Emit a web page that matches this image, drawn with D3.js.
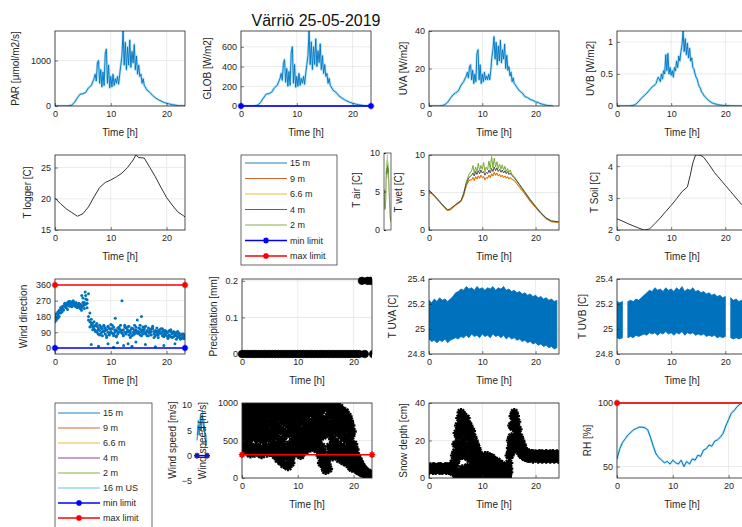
<!DOCTYPE html>
<html><head><meta charset="utf-8">
<script src="https://cdn.jsdelivr.net/npm/d3@7"></script>
<style>body{margin:0;background:#fff;} svg{display:block;}</style>
</head><body>
<svg id="chart" width="742" height="527"></svg>
<script>
// ---------------- DATA ----------------
const chartTitle = "Värriö 25-05-2019";
const timeTicks = [0, 10, 20];

// radiation time base (h)
const radT = [0,1,2,2.5,3,3.5,4,4.5,5,5.5,6,6.5,7,
  7.2,7.4,7.6,7.8,8,8.2,8.4,8.6,8.8,9,9.2,9.4,9.6,9.8,10,10.2,10.4,10.6,10.8,11,11.2,11.4,11.6,11.8,12,12.2,12.4,12.6,12.8,13,13.2,13.4,13.6,13.8,14,14.2,14.4,14.6,14.8,15,15.2,15.4,15.6,15.8,
  16,16.5,17,17.5,18,18.5,19,19.5,20,20.5,21,21.5,22,22.5,23,23.3];
const parVals = [0,0,0,5,20,80,180,260,270,300,400,450,600,
  700,550,950,1000,500,800,420,750,450,1150,1250,500,900,400,650,420,700,450,600,500,650,480,700,900,1100,1650,900,1400,800,1300,900,1450,850,1200,950,1350,800,1100,700,900,650,700,500,600,
  450,350,300,230,180,140,110,80,60,45,30,20,10,5,2,0];
const globVals = [0,0,0,2,10,35,80,120,125,140,185,210,280,
  330,260,430,470,240,380,200,350,210,540,600,230,420,190,300,200,330,210,280,230,300,220,330,420,510,760,420,650,370,600,420,680,400,560,440,630,370,510,330,420,300,330,230,280,
  210,160,140,105,85,65,50,38,28,20,14,9,5,2,1,0];
const uvaVals = [0,0,0,0.2,0.8,2,4,6,7,8,11,13,16,
  18,15,21,22,14,19,12,17,13,28,30,14,22,12,17,13,18,14,16,14,17,14,19,26,30,37,25,34,22,32,24,35,23,30,25,33,20,27,19,21,16,18,13,15,
  12,10,8,7,5,4.5,3.5,3,2.2,1.8,1.2,0.8,0.4,0.2,0.1,0];
const uvbVals = [0,0,0,0.003,0.01,0.03,0.07,0.12,0.16,0.2,0.25,0.3,0.33,
  0.35,0.4,0.45,0.42,0.38,0.5,0.42,0.55,0.5,0.8,0.55,0.82,0.5,0.6,0.48,0.55,0.45,0.6,0.55,0.7,0.6,0.78,0.7,0.85,0.95,1.17,0.85,1.05,0.8,0.98,0.75,0.9,0.7,0.75,0.6,0.58,0.5,0.45,0.42,0.35,0.3,0.28,0.22,0.2,
  0.17,0.12,0.08,0.05,0.035,0.025,0.015,0.01,0.006,0.004,0.002,0.001,0,0,0,0];

// T logger
const tlT = [0,1,2,3,4,5,6,7,8,9,10,11,12,13,14,14.5,15,16,17,18,19,20,21,22,23,23.3];
const tlVals = [20.1,19.2,18.4,17.8,17.2,17.6,18.7,20.3,21.8,22.6,23.0,23.5,24.1,25.0,26.2,27.0,26.6,26.5,25.0,23.5,21.8,20.2,19.0,17.9,17.3,17.1];

// T wet / T air
const twT = [0,1,2,3,3.5,4,5,6,6.5,7,7.5,
  8,8.25,8.5,8.75,9,9.25,9.5,9.75,10,10.25,10.5,10.75,11,11.25,11.5,11.75,12,12.25,12.5,12.75,13,13.25,13.5,13.75,14,14.25,14.5,14.75,15,15.25,15.5,
  16,17,18,19,20,21,22,23,24.3];
const twDark = [5.3,4.6,3.8,3.0,2.7,2.8,3.4,3.9,4.8,6.2,7.0,
  7.3,7.6,7.2,7.8,7.4,7.9,7.5,8.0,7.6,7.8,7.3,7.7,7.5,8.0,7.6,8.2,7.8,8.4,7.9,8.3,7.8,8.1,7.7,8.0,7.6,7.9,7.5,7.8,7.4,7.6,7.3,
  7.0,6.0,5.0,4.0,3.1,2.3,1.6,1.2,1.1];
const twOrange = [5.2,4.5,3.7,2.9,2.6,2.7,3.3,3.8,4.6,5.9,6.6,
  6.7,7.0,6.6,7.1,6.8,7.2,6.9,7.3,7.0,7.1,6.7,7.0,6.9,7.3,7.0,7.5,7.2,7.7,7.3,7.6,7.2,7.4,7.1,7.3,7.0,7.2,6.9,7.1,6.8,7.0,6.8,
  6.6,5.7,4.8,3.8,3.0,2.2,1.5,1.1,1.0];
const twGreen = [5.3,4.6,3.8,3.0,2.7,2.8,3.4,3.9,4.9,6.4,7.4,
  7.9,8.6,7.6,8.4,7.8,8.9,7.9,8.6,8.1,9.0,7.8,8.4,8.0,9.2,8.1,9.8,8.3,9.6,8.4,9.1,8.2,8.8,8.1,8.7,8.0,8.5,7.8,8.2,7.7,8.0,7.5,
  7.1,6.1,5.1,4.1,3.2,2.3,1.6,1.2,1.1];

// T soil
const tsT = [0,1,2,3,4,5,6,7,8,9,10,11,12,13,13.5,14,14.5,15,15.5,16,17,18,19,20,21,22,23,24];
const tsVals = [2.35,2.28,2.2,2.13,2.06,2.0,2.03,2.2,2.38,2.58,2.77,2.98,3.2,3.35,3.7,4.1,4.35,4.35,4.33,4.28,4.05,3.8,3.6,3.4,3.2,3.0,2.8,2.65];

// quarter-hour time base
const hours = [0,0.25,0.5,0.75,1,1.25,1.5,1.75,2,2.25,2.5,2.75,3,3.25,3.5,3.75,4,4.25,4.5,4.75,5,5.25,5.5,5.75,6,6.25,6.5,6.75,7,7.25,7.5,7.75,8,8.25,8.5,8.75,9,9.25,9.5,9.75,10,10.25,10.5,10.75,11,11.25,11.5,11.75,12,12.25,12.5,12.75,13,13.25,13.5,13.75,14,14.25,14.5,14.75,15,15.25,15.5,15.75,16,16.25,16.5,16.75,17,17.25,17.5,17.75,18,18.25,18.5,18.75,19,19.25,19.5,19.75,20,20.25,20.5,20.75,21,21.25,21.5,21.75,22,22.25,22.5,22.75,23,23.25,23.5,23.75,24,24.25];
// half-hour time base
const halfHours = [0,0.5,1,1.5,2,2.5,3,3.5,4,4.5,5,5.5,6,6.5,7,7.5,8,8.5,9,9.5,10,10.5,11,11.5,12,12.5,13,13.5,14,14.5,15,15.5,16,16.5,17,17.5,18,18.5,19,19.5,20,20.5,21,21.5,22,22.5,23,23.5,24];

// wind direction (deg)
const wdA = [150,175,190,200,215,225,240,235,250,245,255,240,260,250,245,255,240,235,250,230,240,225,250,275,180,150,130,120,110,100,90,115,100,85,110,95,80,105,90,110,95,85,120,90,100,80,110,95,85,105,90,115,95,75,100,115,90,80,105,95,85,110,90,120,95,80,100,115,85,95,110,80,100,90,75,105,85,95,80,100,70,90,75,95,80,65,85,70,80,65,75,60,70,65,60,70,65,60];
const wdB = [185,160,205,180,230,205,220,250,230,260,240,265,245,270,255,235,250,245,225,245,285,260,300,230,310,200,165,140,150,130,125,80,130,120,70,130,115,60,125,75,135,110,70,105,65,115,90,130,270,75,120,80,105,125,85,70,110,130,90,160,115,75,100,80,110,125,70,90,105,75,120,95,70,115,100,85,110,70,100,75,95,60,100,65,85,95,70,90,60,85,55,80,55,75,70,55,60,65];
const wdC = [165,195,170,215,200,235,215,255,240,220,265,250,235,265,240,260,230,255,240,215,260,245,280,255,160,120,145,105,125,95,140,105,75,115,95,125,100,70,120,85,110,130,80,100,70,95,120,105,100,70,130,90,120,95,60,110,75,100,120,85,95,130,70,105,120,85,95,70,90,110,125,60,95,80,60,90,85,110,65,90,85,55,70,105,60,90,75,50,95,70,50,75,80,55,75,60,70,50];
const wdOutT = [4.8,5.4,6.5,7.8,9.5,10.5,10.8,11.2,12.3,13.1,13.8,14.5,15.5,16.2,18,19.5,21.5];
const wdOutV = [300,320,20,10,25,5,170,30,15,25,10,35,180,20,8,15,25];

// precipitation (mm), half-hourly
const precipVals = [0,0,0,0,0,0,0,0,0,0,0,0,0,0,0,0,0,0,0,0,0,0,0,0,0,0,0,0,0,0,0,0,0,0,0,0,0,0,0,0,0,0,0,0.2,0,0.2,0.2,0,0];

// T UVA / T UVB envelopes (half-hourly)
const tuvaHi = [25.23,25.21,25.24,25.22,25.25,25.23,25.24,25.22,25.24,25.26,25.29,25.30,25.32,25.31,25.34,25.32,25.33,25.31,25.34,25.32,25.33,25.31,25.33,25.32,25.34,25.31,25.33,25.32,25.34,25.31,25.32,25.30,25.31,25.29,25.30,25.28,25.29,25.27,25.28,25.26,25.27,25.25,25.26,25.24,25.25,25.23,25.24,25.22,25.23];
const tuvaLo = [24.92,24.90,24.91,24.89,24.91,24.90,24.92,24.89,24.91,24.92,24.93,24.92,24.94,24.93,24.95,24.93,24.96,24.94,24.95,24.93,24.96,24.94,24.95,24.93,24.96,24.94,24.95,24.93,24.95,24.92,24.94,24.92,24.93,24.91,24.92,24.90,24.91,24.89,24.90,24.88,24.89,24.87,24.88,24.86,24.87,24.85,24.86,24.84,24.85];
const tuvbHi = [25.22,25.21,25.22,null,25.22,25.23,25.22,25.24,25.23,25.25,25.27,25.29,25.31,25.30,25.33,25.31,25.32,25.30,25.33,25.31,25.32,25.30,25.33,25.31,25.34,25.30,25.32,25.31,25.33,25.30,25.31,25.29,25.30,25.28,25.29,25.27,25.28,25.26,25.27,25.25,25.26,null,25.25,25.23,25.24,25.22,25.23,25.21,25.22];
const tuvbLo = [24.93,24.92,24.93,null,24.93,24.94,24.93,24.95,24.94,24.95,24.96,24.95,24.97,24.96,24.97,24.95,24.97,24.96,24.98,24.96,24.97,24.95,24.97,24.96,24.98,24.95,24.97,24.96,24.97,24.95,24.96,24.95,24.96,24.94,24.95,24.94,24.95,24.93,24.94,24.93,24.94,null,24.93,24.92,24.93,24.92,24.93,24.91,24.92];

// wind speed panel (black markers, quarter-hourly)
const wsA = [950,880,1000,920,980,900,960,1000,940,990,870,960,1000,930,980,910,970,1000,900,950,990,920,980,940,880,960,1000,900,950,850,980,920,900,960,870,1000,940,990,910,970,1000,930,960,890,950,1000,920,980,990,940,1000,960,920,980,950,1000,960,900,990,940,1000,930,970,910,950,990,920,880,960,900,940,870,900,850,880,800,820,760,700,620,450,380,300,260,220,180,150,120,100,80,70,60,50,45,40,40,35,30];
const wsB = [700,600,780,650,720,560,800,680,620,750,580,700,760,640,710,590,680,770,620,730,600,720,650,790,560,700,620,480,650,520,740,600,580,700,450,640,720,600,780,650,700,580,760,620,740,640,780,690,760,620,700,650,680,750,600,720,640,700,560,680,600,720,650,580,700,620,760,650,680,600,720,560,620,540,660,500,560,480,420,380,300,260,220,200,160,130,110,95,80,65,55,50,42,38,35,32,30,28];
const wsC = [420,500,380,460,350,450,320,400,380,330,420,360,340,400,310,380,360,420,330,390,400,340,450,360,300,400,250,350,220,380,180,320,280,150,350,200,400,320,450,360,350,420,300,380,420,360,450,390,450,400,480,420,400,460,380,440,300,200,350,150,100,250,120,300,350,280,400,320,300,380,250,340,280,220,320,200,250,180,150,130,180,150,120,100,90,80,70,60,55,45,40,35,30,25,20,20,18,15];
const wsD = [840,530,860,560,820,510,870,540,850,560,810,520,830,540,860,500,810,560,850,520,870,530,820,550,780,420,820,380,800,450,760,300,760,380,820,260,850,520,880,540,820,480,860,520,880,560,840,520,860,540,880,560,830,560,870,520,820,420,780,250,760,180,820,420,850,520,880,480,820,450,800,420,760,400,720,350,680,330,560,280,380,200,250,150,200,120,130,90,85,60,75,45,40,35,30,28,25,22];
// wind speed (m/s), hourly, narrow axis
const wsHourT = [0,1,2,3,4,5,6,7,8,9,10,11,12,13,14,15,16,17,18,19,20,21,22,23,24];
const ws15 = [3,4,5,6,5,4,5,6,7,6,5,6,7,8,7,6,5,6,5,4,3,2,2,3,3];
const ws16US = [4,5,6,7,6,5,6,7,8,7,6,7,8,9,8,7,6,7,6,5,4,3,3,4,4];

// snow depth (cm), quarter-hourly
const snA = [5,6,5,5.5,6,5,5.5,6,5,6,5.5,5,6,5,6,5.5,
  6,5,8,12, 18,24,28,32, 35,34,33,31, 32,29,28,26, 25,22,20,18, 16,14,12,11, 10,11,12,11, 12,11,10,11, 10,9,8,9, 7,8,6,7, 5,6,4,5, 12,20,28,33, 35,33,30,26, 22,20,18,16, 14,13.5,13,13.5,
  12,13,12.5,12,13,12,12.5,13,12,13,12,12.5,13,12.5,12,13,12,13,12.5,12,13,12.5];
const snB = [4,4.5,5,4,4.5,4,5,4.5,4,4.5,4,5,4.5,4,4.5,4,
  5,4.5,3,4, 2,1,3,1, 2,5,1,4, 2,6,1,4, 1,5,1,3, 0.5,3,1,0.5, 2,0.5,1,0.5, 2,0.5,1,0.5, 2,0.5,1,0.5, 1,0.5,1,0.5, 1,0.5,1,0.5, 3,12,14,15, 16,17,16,15, 14,13,12,12, 11,11,10.5,10.5,
  10.5,11,10,11,10.5,11,10,10.5,11,10,10.5,11,10,10.5,11,10,10.5,11,10,10.5,11,10];
const snC = [5.5,4.5,5,6,5,5.5,4.5,5,6,5,5.5,4.5,5,6,5,5.5,
  5.5,6,6,9, 14,18,22,26, 28,24,29,25, 27,22,24,20, 21,17,16,13, 12,10,9,7, 8,7,9,6, 8,7,6,8, 7,6,5,6, 5,4,4,3, 3,3,2,3, 8,16,22,27, 30,28,25,22, 19,17,15,14, 13,12.5,12,12.5,
  11.5,12,11,12,11.5,11,12,11.5,12,11,11.5,12,11,11.5,12,11,11.5,12,11,11.5,12,11.5];
const snD = [4.8,5.2,4.6,5.4,4.9,5.1,4.7,5.3,5,4.8,5.2,4.6,5.4,4.9,5.1,5,
  4.8,5.2,5,6, 8,10,12,15, 18,12,20,14, 17,11,16,10, 13,9,8,7, 5,6,4,3, 5,3,5,3, 5,3,4,3, 4,3,3,2, 3,2,2,2, 2,1,1,2, 5,14,18,20, 22,21,19,18, 16,15,14,13, 12,12,11.5,11,
  12.5,11,13,11.5,12,12.5,11,13,11.5,12.5,11,12,13,11.5,12.5,11,12,13,11.5,12.5,11,12];

// RH (%), half-hourly
const rhVals = [56,64,69,72,75,77,79,80,81,81,80.5,79,73,66,60,57,55,53,54,52,55,53,52,55,50,54,52,56,55,59,58,63,64,67,66,70,71,73,76,82,87,92,94,97,99,100,100,100,100];

// legends
const legend1Labels = ["15 m","9 m","6.6 m","4 m","2 m","min limit","max limit"];
const legend2Labels = ["15 m","9 m","6.6 m","4 m","2 m","16 m US","min limit","max limit"];

// ---------------- STYLE ----------------
const FONT = "'Liberation Sans', Arial, Helvetica, sans-serif";
const INK = "#262626";
const C = {blue:"#0072BD", orange:"#D95319", yellow:"#EDB120", purple:"#7E2F8E", green:"#77AC30", cyan:"#4DBEEE", minl:"#0000FF", maxl:"#FF0000"};
const legend1Colors = [C.blue, C.orange, C.yellow, C.purple, C.green, C.minl, C.maxl];
const legend2Colors = [C.blue, C.orange, C.yellow, C.purple, C.green, C.cyan, C.minl, C.maxl];

const svg = d3.select("#chart").attr("font-family", FONT);
let clipN = 0;

function starPath(r) {
  const d = r * 0.7;
  return `M${-r},0H${r}M0,${-r}V${r}M${-d},${-d}L${d},${d}M${-d},${d}L${d},${-d}`;
}

function makePanel(o) {
  const g = svg.append("g").attr("transform", `translate(${o.x},${o.y})`);
  const xs = d3.scaleLinear().domain(o.xd).range([0, o.w]);
  const ys = d3.scaleLinear().domain(o.yd).range([o.h, 0]);
  const grid = g.append("g").attr("stroke", "#e2e2e2").attr("stroke-width", 0.7);
  timeTicks.forEach(v => grid.append("line").attr("x1", xs(v)).attr("x2", xs(v)).attr("y1", 0).attr("y2", o.h));
  o.yt.forEach(v => grid.append("line").attr("x1", 0).attr("x2", o.w).attr("y1", ys(v)).attr("y2", ys(v)));
  const id = "cp" + (clipN++);
  g.append("clipPath").attr("id", id).append("rect").attr("width", o.w).attr("height", o.h);
  const plot = g.append("g").attr("clip-path", `url(#${id})`);
  return {g, xs, ys, plot, o};
}

function finishPanel(p) {
  const {g, xs, ys, o} = p;
  g.append("rect").attr("width", o.w).attr("height", o.h).attr("fill", "none").attr("stroke", INK).attr("stroke-width", 0.8);
  const xa = g.append("g").attr("transform", `translate(0,${o.h})`)
    .call(d3.axisBottom(xs).tickValues(timeTicks).tickSizeInner(-3).tickSizeOuter(0).tickPadding(5));
  const ya = g.append("g")
    .call(d3.axisLeft(ys).tickValues(o.yt).tickSizeInner(-3).tickSizeOuter(0).tickPadding(4).tickFormat(d => String(d)));
  [xa, ya].forEach(a => {
    a.select(".domain").remove();
    a.selectAll("line").attr("stroke", INK).attr("stroke-width", 0.6);
    a.selectAll("text").attr("fill", INK).attr("font-size", 9).attr("font-family", FONT);
  });
  g.append("text").attr("x", o.w / 2).attr("y", o.h + 30).attr("text-anchor", "middle")
    .attr("font-size", 10).attr("fill", INK).text("Time [h]");
  if (o.ylabel) {
    g.append("text").attr("transform", `translate(${o.ylx - o.x},${o.h / 2}) rotate(-90)`)
      .attr("text-anchor", "middle").attr("dy", "0.35em").attr("font-size", 10).attr("fill", INK).text(o.ylabel);
  }
}

function drawLine(p, xsArr, ysArr, color, width, opacity) {
  const pts = xsArr.map((t, i) => [t, ysArr[i]]);
  p.plot.append("path").datum(pts)
    .attr("d", d3.line().defined(d => d[1] != null).x(d => p.xs(d[0])).y(d => p.ys(d[1])))
    .attr("fill", "none").attr("stroke", color).attr("stroke-width", width).attr("stroke-opacity", opacity == null ? 1 : opacity)
    .attr("stroke-linejoin", "round");
}

function limitLine(p, val, color, ends) {
  const y = p.ys(val);
  p.g.append("line").attr("x1", 0).attr("x2", p.o.w).attr("y1", y).attr("y2", y)
    .attr("stroke", color).attr("stroke-width", 1.6);
  (ends || [0, p.o.w]).forEach(x => {
    p.g.append("path").attr("d", starPath(3.2)).attr("transform", `translate(${x},${y})`)
      .attr("stroke", color).attr("stroke-width", 1.6).attr("fill", "none");
  });
}

function stars(p, tArr, vArr, r, sw) {
  p.plot.append("g").selectAll("path").data(tArr.map((t, i) => [t, vArr[i]])).join("path")
    .attr("d", starPath(r)).attr("transform", d => `translate(${p.xs(d[0])},${p.ys(d[1])})`)
    .attr("stroke", "#000").attr("stroke-width", sw).attr("fill", "none");
}

// ---------------- TITLE ----------------
svg.append("text").attr("x", 316).attr("y", 26).attr("text-anchor", "middle")
  .attr("font-size", 16).attr("fill", "#111").text(chartTitle);

// ---------------- ROW 1 ----------------
const radCfg = [
  {x:55,  xd:[0,23.3], yd:[0,1650], yt:[0,1000], ylabel:"PAR [μmol/m2/s]", ylx:15, vals:parVals},
  {x:241, xd:[0,23.3], yd:[0,760], yt:[0,200,400,600], ylabel:"GLOB [W/m2]", ylx:207, vals:globVals, minLimit:true},
  {x:429, xd:[0,24.4], yd:[0,40], yt:[0,20,40], ylabel:"UVA [W/m2]", ylx:403, vals:uvaVals},
  {x:617, xd:[0,24], yd:[0,1.17], yt:[0,0.5,1], ylabel:"UVB [W/m2]", ylx:590, vals:uvbVals}
];
radCfg.forEach(c => {
  const p = makePanel(Object.assign({y:31, w:130, h:75}, c));
  drawLine(p, radT, c.vals, C.cyan, 2.6, 0.45);
  drawLine(p, radT, c.vals, C.blue, 0.9);
  finishPanel(p);
  if (c.minLimit) limitLine(p, 0, C.minl);
});

// ---------------- ROW 2 ----------------
{
  const p = makePanel({x:55, y:155, w:130, h:75, xd:[0,23.3], yd:[15,27], yt:[15,20,25], ylabel:"T logger [C]", ylx:27});
  drawLine(p, tlT, tlVals, "#333", 1);
  finishPanel(p);
}
function drawLegend(x, y, w, h, labels, colors, lx0, lx1, tx, y0, dy) {
  const g = svg.append("g");
  g.append("rect").attr("x", x).attr("y", y).attr("width", w).attr("height", h)
    .attr("fill", "#fff").attr("stroke", INK).attr("stroke-width", 0.7);
  labels.forEach((lab, i) => {
    const yy = y0 + i * dy;
    g.append("line").attr("x1", lx0).attr("x2", lx1).attr("y1", yy).attr("y2", yy)
      .attr("stroke", colors[i]).attr("stroke-width", lab.includes("limit") ? 1.4 : 0.9);
    if (lab.includes("limit")) {
      g.append("path").attr("d", starPath(3)).attr("transform", `translate(${(lx0 + lx1) / 2},${yy})`)
        .attr("stroke", colors[i]).attr("stroke-width", 1.5).attr("fill", "none");
    }
    g.append("text").attr("x", tx).attr("y", yy).attr("dy", "0.35em").attr("font-size", 9)
      .attr("fill", INK).text(lab);
  });
}
drawLegend(241, 155, 96, 110, legend1Labels, legend1Colors, 245, 287, 290, 163, 15.5);

// T air mini axes
{
  const x0 = 384, y0 = 153, w = 7, h = 77;
  const g = svg.append("g").attr("transform", `translate(${x0},${y0})`);
  const xs = d3.scaleLinear().domain([0, 24.4]).range([0, w]);
  const ys = d3.scaleLinear().domain([0, 10]).range([h, 0]);
  const id = "cp" + (clipN++);
  g.append("clipPath").attr("id", id).append("rect").attr("width", w).attr("height", h);
  const pl = g.append("g").attr("clip-path", `url(#${id})`);
  [[twOrange, "#e8c88a"], [twGreen, "#a9cf7f"], [twDark, "#5f8a3a"]].forEach(([vals, col]) => {
    pl.append("path").datum(twT.map((t, i) => [t, vals[i]]))
      .attr("d", d3.line().x(d => xs(d[0])).y(d => ys(d[1])))
      .attr("fill", "none").attr("stroke", col).attr("stroke-width", 0.8).attr("stroke-opacity", 0.8);
  });
  g.append("rect").attr("width", w).attr("height", h).attr("fill", "none").attr("stroke", INK).attr("stroke-width", 0.7);
  const ya = g.append("g").call(d3.axisLeft(ys).tickValues([0, 5, 10]).tickSizeInner(-2).tickSizeOuter(0).tickPadding(4));
  ya.select(".domain").remove();
  ya.selectAll("line").attr("stroke", INK);
  ya.selectAll("text").attr("fill", INK).attr("font-size", 9).attr("font-family", FONT);
  svg.append("text").attr("transform", `translate(356,190) rotate(-90)`).attr("text-anchor", "middle")
    .attr("dy", "0.35em").attr("font-size", 10).attr("fill", INK).text("T air [C]");
}
{
  const p = makePanel({x:429, y:155, w:130, h:75, xd:[0,24.4], yd:[0,10], yt:[0,5,10], ylabel:"T wet [C]", ylx:398});
  drawLine(p, twT, twOrange, C.yellow, 1.1);
  drawLine(p, twT, twOrange, C.orange, 0.8, 0.8);
  drawLine(p, twT, twGreen, C.green, 1);
  drawLine(p, twT, twDark, "#4d4d4d", 1);
  finishPanel(p);
}
{
  const p = makePanel({x:617, y:155, w:130, h:75, xd:[0,24], yd:[2,4.35], yt:[2,3,4], ylabel:"T Soil [C]", ylx:594});
  drawLine(p, tsT, tsVals, "#333", 1);
  finishPanel(p);
}

// ---------------- ROW 3 ----------------
{
  const p = makePanel({x:55, y:279, w:130, h:75, xd:[0,23.3], yd:[-34,394], yt:[0,90,180,270,360], ylabel:"Wind direction", ylx:23});
  const dots = hours.map((t, i) => [t, wdA[i]]).concat(hours.map((t, i) => [t, wdB[i]]))
    .concat(hours.map((t, i) => [t, wdC[i]])).concat(wdOutT.map((t, i) => [t, wdOutV[i]]));
  p.plot.append("g").selectAll("circle").data(dots).join("circle")
    .attr("cx", d => p.xs(d[0])).attr("cy", d => p.ys(d[1])).attr("r", 1.5).attr("fill", C.blue);
  finishPanel(p);
  limitLine(p, 0, C.minl);
  limitLine(p, 360, C.maxl);
}
{
  const p = makePanel({x:242, y:279, w:130, h:75, xd:[0,23.3], yd:[0,0.205], yt:[0,0.1,0.2], ylabel:"Precipitation [mm]", ylx:213});
  finishPanel(p);
  const cp = "cpx" + (clipN++);
  p.g.append("clipPath").attr("id", cp).append("rect").attr("x", -5).attr("y", -6).attr("width", p.o.w + 5).attr("height", p.o.h + 12);
  p.g.append("g").attr("clip-path", `url(#${cp})`).selectAll("circle")
    .data(halfHours.map((t, i) => [t, precipVals[i]])).join("circle")
    .attr("cx", d => p.xs(d[0])).attr("cy", d => p.ys(d[1])).attr("r", 3.8)
    .attr("fill", "#000").attr("stroke", "#000").attr("stroke-width", 0.6);
}
function envelope(p, hi, lo) {
  const pts = halfHours.map((t, i) => [t, lo[i], hi[i]]);
  p.plot.append("path").datum(pts)
    .attr("d", d3.area().defined(d => d[1] != null).x(d => p.xs(d[0])).y0(d => p.ys(d[1])).y1(d => p.ys(d[2])))
    .attr("fill", C.blue).attr("stroke", C.blue).attr("stroke-width", 0.8);
}
{
  const p = makePanel({x:429, y:279, w:130, h:75, xd:[0,24.4], yd:[24.8,25.4], yt:[24.8,25,25.2,25.4], ylabel:"T UVA [C]", ylx:392});
  envelope(p, tuvaHi, tuvaLo);
  finishPanel(p);
}
{
  const p = makePanel({x:617, y:279, w:130, h:75, xd:[0,24], yd:[24.8,25.4], yt:[24.8,25,25.2,25.4], ylabel:"T UVB [C]", ylx:582});
  envelope(p, tuvbHi, tuvbLo);
  finishPanel(p);
}

// ---------------- ROW 4 ----------------
drawLegend(55, 403, 97, 135, legend2Labels, legend2Colors, 58, 100, 103, 413, 15);

// narrow wind speed axis
{
  const x0 = 197, w = 10;
  const xs = d3.scaleLinear().domain([0, 24]).range([x0, x0 + w]);
  const ys = d3.scaleLinear().domain([-5, 10]).range([481, 405]);
  const g = svg.append("g");
  [[ws16US, C.cyan], [ws15, C.blue]].forEach(([vals, col]) => {
    g.append("path").datum(wsHourT.map((t, i) => [t, vals[i]]))
      .attr("d", d3.line().x(d => xs(d[0])).y(d => ys(d[1])))
      .attr("fill", "none").attr("stroke", col).attr("stroke-width", 0.9);
  });
  g.append("line").attr("x1", xs(0)).attr("x2", xs(24)).attr("y1", ys(0)).attr("y2", ys(0))
    .attr("stroke", C.minl).attr("stroke-width", 1.6);
  [0, 24].forEach(t => g.append("path").attr("d", starPath(3)).attr("transform", `translate(${xs(t)},${ys(0)})`)
    .attr("stroke", "#1a1aa0").attr("stroke-width", 1.5).attr("fill", "none"));
  const ya = g.append("g").attr("transform", `translate(${x0},0)`)
    .call(d3.axisLeft(ys).tickValues([-5, 0, 5, 10]).tickSize(0).tickPadding(5));
  ya.select(".domain").remove();
  ya.selectAll("text").attr("fill", INK).attr("font-size", 9).attr("font-family", FONT);
  svg.append("text").attr("transform", `translate(172,440) rotate(-90)`).attr("text-anchor", "middle")
    .attr("dy", "0.35em").attr("font-size", 10).attr("fill", INK).text("Wind speed [m/s]");
}
{
  const p = makePanel({x:242, y:403, w:130, h:75, xd:[0,23.3], yd:[0,1000], yt:[0,500,1000], ylabel:"Wind speed [m/s]", ylx:202});
  [wsA, wsB, wsC, wsD].forEach(arr => stars(p, hours, arr, 4.6, 2.3));
  finishPanel(p);
  limitLine(p, 310, C.maxl);
}
{
  const p = makePanel({x:429, y:403, w:130, h:75, xd:[0,24.4], yd:[0,40], yt:[0,20,40], ylabel:"Snow depth [cm]", ylx:403});
  [snA, snB, snC, snD].forEach(arr => stars(p, hours, arr, 4.4, 2.2));
  finishPanel(p);
}
{
  const p = makePanel({x:617, y:403, w:130, h:75, xd:[0,23.3], yd:[41,100], yt:[50,100], ylabel:"RH [%]", ylx:587});
  drawLine(p, halfHours, rhVals, C.cyan, 2.4, 0.4);
  drawLine(p, halfHours, rhVals, C.blue, 1);
  finishPanel(p);
  limitLine(p, 100, C.maxl);
}
</script>
</body></html>
